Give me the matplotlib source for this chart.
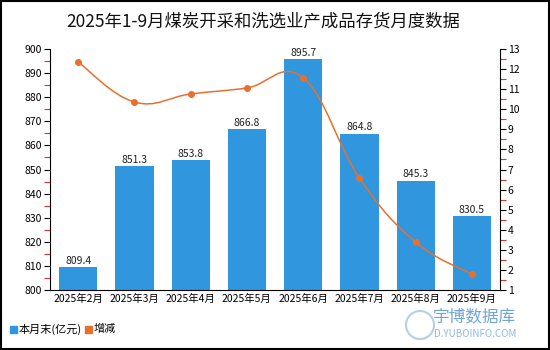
import numpy as np
import matplotlib
matplotlib.use('Agg')
import matplotlib.pyplot as plt
from matplotlib.path import Path
from matplotlib.patches import PathPatch, Rectangle, Ellipse

plt.rcParams['font.family'] = ['Noto Sans CJK SC', 'DejaVu Sans']

months = ['2025年2月', '2025年3月', '2025年4月', '2025年5月',
          '2025年6月', '2025年7月', '2025年8月', '2025年9月']
stock = [809.4, 851.3, 853.8, 866.8, 895.7, 864.8, 845.3, 830.5]
change = [12.35, 10.36, 10.76, 11.06, 11.56, 6.58, 3.39, 1.79]

bar_color = '#3096DD'
line_color = '#E8702E'

fig = plt.figure(figsize=(5.5, 3.5), dpi=100)
ax = fig.add_axes([50/550, 1-290/350, 450/550, 241/350])
x = np.arange(len(months))

bars = ax.bar(x, stock, width=0.68, color=bar_color, zorder=2)
for xi, v in zip(x, stock):
    ax.text(xi, v + 0.6, f'{v:.1f}', ha='center', va='bottom', fontsize=7.5, color='#222222')

ax.set_xlim(-0.5, len(months) - 0.5)
ax.set_ylim(800, 900)
ax.set_yticks(np.arange(800, 901, 10))
ax.set_yticks(np.arange(805, 900, 10), minor=True)
ax.set_xticks(x)
ax.set_xticklabels(months)
ax.tick_params(axis='both', labelsize=7.5, length=4, width=0.8, pad=1.5)
ax.tick_params(axis='x', length=0, pad=3)
ax.tick_params(axis='y', which='minor', length=4, color='#E03030', width=0.8)
ax.spines['top'].set_visible(False)
ax.spines['right'].set_visible(False)

ax2 = ax.twinx()
ax2.set_ylim(1, 13)
ax2.set_yticks(np.arange(1, 14, 1))
ax2.set_yticks(np.arange(1.5, 13, 1), minor=True)
ax2.tick_params(axis='y', labelsize=7.5, length=4, width=0.8, pad=1.5)
ax2.tick_params(axis='y', which='minor', length=4, color='#E03030', width=0.8)
for s in ['top', 'left', 'bottom']:
    ax2.spines[s].set_visible(False)

# smooth curve through the points (cubic bezier, catmull-rom style)
px = np.array(x, dtype=float)
py = np.array(change, dtype=float)
verts = [(px[0], py[0])]
codes = [Path.MOVETO]
t = 0.2
for i in range(len(px) - 1):
    p0 = (px[i-1], py[i-1]) if i > 0 else (px[i], py[i])
    p1 = (px[i], py[i])
    p2 = (px[i+1], py[i+1])
    p3 = (px[i+2], py[i+2]) if i + 2 < len(px) else p2
    c1 = (p1[0] + (p2[0] - p0[0]) * t, p1[1] + (p2[1] - p0[1]) * t)
    c2 = (p2[0] - (p3[0] - p1[0]) * t, p2[1] - (p3[1] - p1[1]) * t)
    verts += [c1, c2, p2]
    codes += [Path.CURVE4] * 3
ax2.add_patch(PathPatch(Path(verts, codes), fill=False, edgecolor=line_color, lw=1.1, zorder=3))
ax2.plot(x, change, 'o', color=line_color, markersize=4, zorder=4)

fig.text(0.478, 1-22/350, '2025年1-9月煤炭开采和洗选业产成品存货月度数据',
         ha='center', va='center', fontsize=12.5, color='#111111')

# legend
fig.patches.append(Rectangle((10/550, 1-333/350), 7/550, 7/350, transform=fig.transFigure,
                             color=bar_color, figure=fig))
fig.text(19/550, 1-329/350, '本月末(亿元)', fontsize=8, va='center')
fig.patches.append(Rectangle((85/550, 1-333/350), 7/550, 7/350, transform=fig.transFigure,
                             color=line_color, figure=fig))
fig.text(94/550, 1-329/350, '增减', fontsize=8, va='center')

# watermark
fig.text(474/550, 1-317/350, '宇博数据库', fontsize=12, color='#6FA6D6', ha='center', va='center')
fig.text(475/550, 1-334/350, 'D.YUBOINFO.COM', fontsize=7, color='#8FB8DE', ha='center', va='center')
fig.patches.append(Ellipse((420/550, 1-325/350), 28/550, 28/350, transform=fig.transFigure,
                   fill=False, edgecolor='#B5CFE8', lw=1.5, figure=fig))

# outer border
fig.patches.append(Rectangle((0.002, 0.003), 0.996, 0.994, transform=fig.transFigure,
                             fill=False, edgecolor='black', lw=1.5, figure=fig))

fig.savefig('out.png', dpi=100)
